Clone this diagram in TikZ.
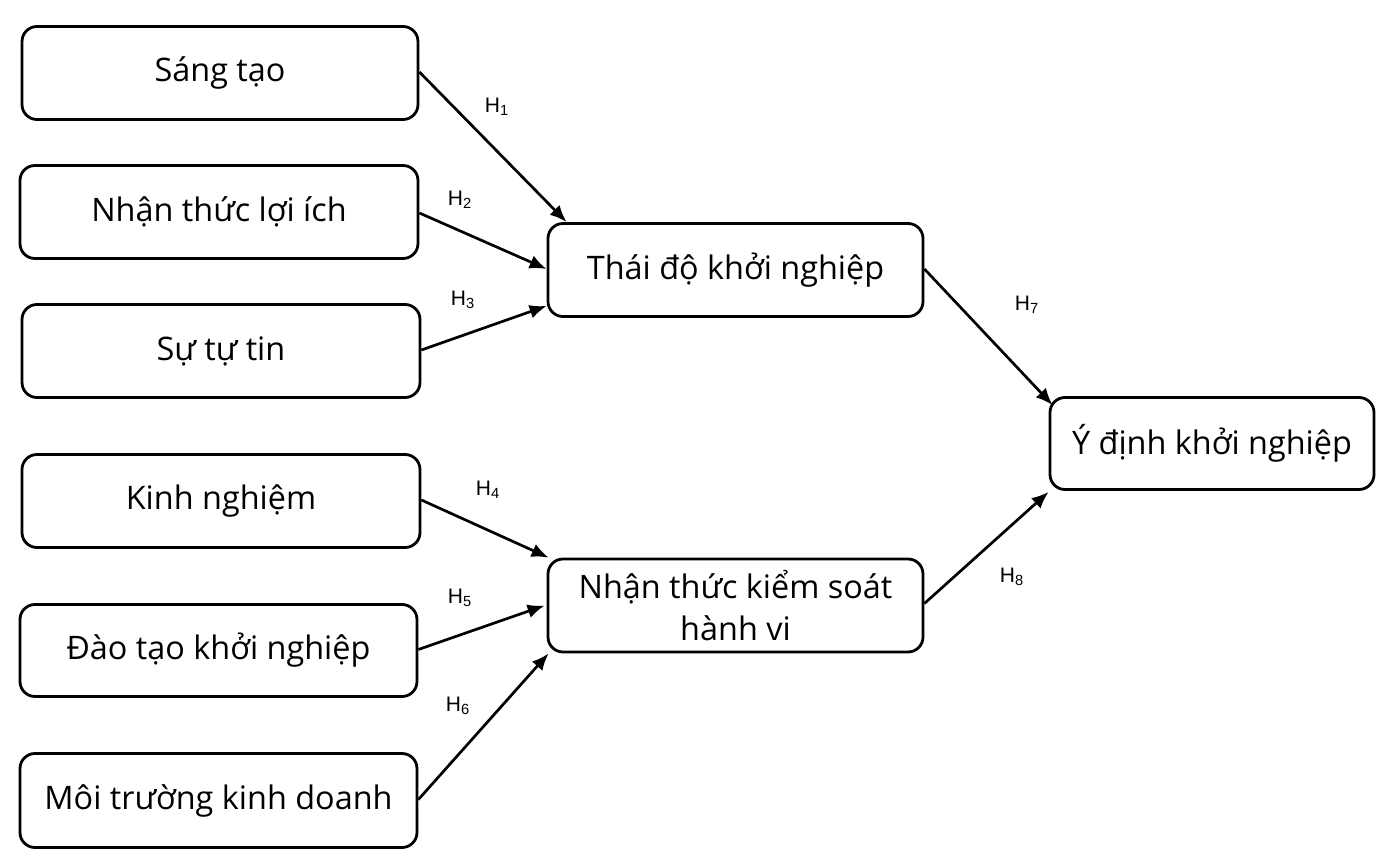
\documentclass[tikz,border=0pt]{standalone}
\usepackage{fontspec}
\setmainfont{Open Sans}
\newfontfamily\labfont{Liberation Sans}
\usetikzlibrary{arrows.meta,calc}
\begin{document}
\begin{tikzpicture}[x=0.5pt,y=-0.5pt,
  box/.style={draw, line width=1.4pt, rounded corners=7.5pt, align=center, inner sep=0pt,
    font=\fontsize{16.2}{21}\selectfont},
  conn/.style={line width=1.35pt, -{Latex[length=8.5pt,width=7pt]}},
  hlab/.style={font=\labfont\fontsize{10.5}{12}\selectfont, inner sep=0pt}]
\useasboundingbox (0,0) rectangle (1386,861);
\node[box, minimum width=198pt, minimum height=46.5pt] (s1) at (220,73) {Sáng tạo};
\node[box, minimum width=199pt, minimum height=46.5pt] (s2) at (219,212) {Nhận thức lợi ích};
\node[box, minimum width=199pt, minimum height=46.5pt] (s3) at (221,351) {Sự tự tin};
\node[box, minimum width=199pt, minimum height=46.5pt] (s4) at (221,501) {Kinh nghiệm};
\node[box, minimum width=198.5pt, minimum height=46pt] (s5) at (218.5,650.5) {Đào tạo khởi nghiệp};
\node[box, minimum width=198.5pt, minimum height=47pt] (s6) at (218.5,800.5) {Môi trường kinh doanh};
\node[box, minimum width=187.5pt, minimum height=46.5pt] (t) at (735.5,270) {Thái độ khởi nghiệp};
\node[box, minimum width=187.5pt, minimum height=46.5pt] (k) at (735.5,605.5) {Nhận thức kiểm soát\\hành vi};
\node[box, minimum width=162pt, minimum height=46pt] (y) at (1212,443.5) {Ý định khởi nghiệp};

\draw[conn] ($(s1.east)+(0,-1)$) -- ($(t.north west)+(20,0)$);
\draw[conn] ($(s2.east)+(0,1)$) -- ($(t.west)+(0,-1)$);
\draw[conn] ($(s3.east)+(0,-1)$) -- ($(t.south west)+(0,-12)$);
\draw[conn] ($(s4.east)+(0,-1)$) -- ($(k.north west)+(2,0)$);
\draw[conn] ($(s5.east)+(0,-1)$) -- ($(k.west)+(-2,0)$);
\draw[conn] ($(s6.east)+(0,-1)$) -- ($(k.south west)+(2,0)$);
\draw[conn] ($(t.east)+(0,-1)$) -- ($(y.north west)+(4,9)$);
\draw[conn] ($(k.east)+(0,-2)$) -- ($(y.south west)+(0,1)$);

\node[hlab] (h1) at (497,107) {H\textsubscript{1}};
\node[hlab] (h2) at (460,200) {H\textsubscript{2}};
\node[hlab] (h3) at (463,300) {H\textsubscript{3}};
\node[hlab] (h4) at (488,490) {H\textsubscript{4}};
\node[hlab] (h5) at (460,598) {H\textsubscript{5}};
\node[hlab] (h6) at (458,706) {H\textsubscript{6}};
\node[hlab] (h7) at (1027,305) {H\textsubscript{7}};
\node[hlab] (h8) at (1012,577) {H\textsubscript{8}};
\end{tikzpicture}
\end{document}
